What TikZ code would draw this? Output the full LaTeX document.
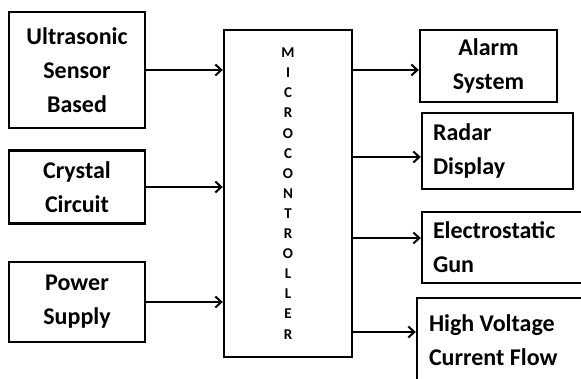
\documentclass[tikz,border=0pt]{standalone}
\usepackage{fontspec}
\setmainfont{Carlito}
\usetikzlibrary{arrows.meta}

\begin{document}
\begin{tikzpicture}[x=1pt, y=-1pt,
  blockbox/.style={draw, line width=2.4pt, inner sep=0pt,
    font=\fontsize{24}{34}\selectfont\bfseries},
  link/.style={line width=2pt, -{Straight Barb[length=6pt, width=11pt]}}]
\useasboundingbox (0,0) rectangle (581,378);
\clip (0,0) rectangle (581,378);
\node[blockbox, minimum width=136, minimum height=116, align=center] (sensor) at (77,70) {Ultrasonic\\Sensor\\Based};
\node[blockbox, minimum width=136, minimum height=73, align=center] (crystal) at (77,187) {Crystal\\Circuit};
\node[blockbox, minimum width=136, minimum height=80, align=center] (power) at (77,302) {Power\\Supply};
\node[blockbox, minimum width=128, minimum height=327, align=center,
  font=\fontsize{15}{20.1}\selectfont\bfseries] (mcu) at (288,193.5)
  {M\\I\\C\\R\\O\\C\\O\\N\\T\\R\\O\\L\\L\\E\\R};
\node[blockbox, minimum width=137, minimum height=72, align=center] (alarm) at (488.5,66) {Alarm\\System};
\node[blockbox, minimum width=151, minimum height=76, inner xsep=11, text width=129, align=flush left] (radar) at (497.5,151) {Radar\\Display};
\node[blockbox, minimum width=188, minimum height=71, inner xsep=11, text width=166, align=flush left] (gun) at (516,247.5) {Electrostatic\\Gun};
\node[blockbox, minimum width=193, minimum height=84, inner xsep=12, text width=169, align=flush left] (flow) at (513.5,340) {High Voltage\\Current Flow};
\draw[link] (sensor.east) -- (sensor.east -| mcu.west);
\draw[link] (crystal.east) -- (crystal.east -| mcu.west);
\draw[link] (power.east) -- (power.east -| mcu.west);
\draw[link] ([yshift=-4pt]mcu.east |- alarm.west) -- ([yshift=-4pt]alarm.west);
\draw[link] ([yshift=-6pt]mcu.east |- radar.west) -- ([yshift=-6pt]radar.west);
\draw[link] ([yshift=9.5pt]mcu.east |- gun.west) -- ([yshift=9.5pt]gun.west);
\draw[link] ([yshift=8pt]mcu.east |- flow.west) -- ([yshift=8pt]flow.west);
\end{tikzpicture}
\end{document}
